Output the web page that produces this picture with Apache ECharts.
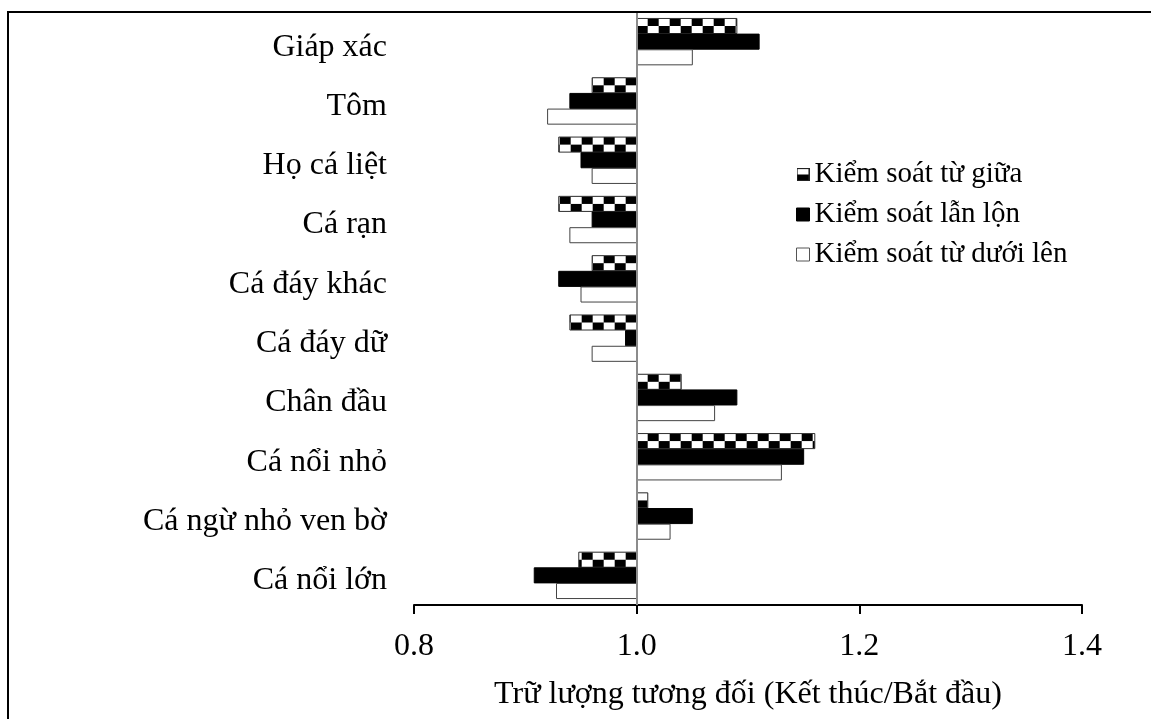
<!DOCTYPE html>
<html>
<head>
<meta charset="utf-8">
<script src="https://cdn.jsdelivr.net/npm/echarts@6/dist/echarts.min.js"></script>
<style>
html,body{margin:0;padding:0;background:#fff;}
#chart{width:1151px;height:719px;}
</style>
</head>
<body>
<div id="chart"></div>
<script>
// ---- data ----
const categories = ['Giáp xác','Tôm','Họ cá liệt','Cá rạn','Cá đáy khác','Cá đáy dữ','Chân đầu','Cá nổi nhỏ','Cá ngừ nhỏ ven bờ','Cá nổi lớn'];
const seriesNames = ['Kiểm soát từ giữa','Kiểm soát lẫn lộn','Kiểm soát từ dưới lên'];
const middleOut = [1.09, 0.96, 0.93, 0.93, 0.96, 0.94, 1.04, 1.16, 1.01, 0.948];
const mixedCtrl = [1.11, 0.94, 0.95, 0.96, 0.93, 0.99, 1.09, 1.15, 1.05, 0.908];
const bottomUp  = [1.05, 0.92, 0.96, 0.94, 0.95, 0.96, 1.07, 1.13, 1.03, 0.928];
const tickValues = [0.8, 1.0, 1.2, 1.4];
const baseValue = 1.0;
const xAxisName = 'Trữ lượng tương đối (Kết thúc/Bắt đầu)';

const FONT = '"Liberation Serif","Times New Roman",serif';

// checker pattern canvas
const pat = document.createElement('canvas');
pat.width = 22; pat.height = 16;
(function(){
  const c = pat.getContext('2d');
  c.fillStyle = '#fff'; c.fillRect(0,0,22,16);
  c.fillStyle = '#000';
  c.fillRect(11,0,11,8);
  c.fillRect(0,8,11,8);
})();

// legend icon for checkered series
const ic = document.createElement('canvas');
ic.width = 12; ic.height = 12;
(function(){
  const c = ic.getContext('2d');
  c.fillStyle = '#fff'; c.fillRect(0,0,12,12);
  c.fillStyle = '#000'; c.fillRect(0,6,12,6);
  c.strokeStyle = '#222'; c.lineWidth = 1; c.strokeRect(0.5,0.5,11,11);
})();
const checkerIcon = 'image://' + ic.toDataURL();

function toData(arr){ return arr.map((v,i)=>[v,i]); }

function makeRender(slot, kind){
  return function(params, api){
    const v = api.value(0);
    const cat = api.value(1);
    const p0 = api.coord([baseValue, cat]);
    const p1 = api.coord([v, cat]);
    const band = api.size([0,1])[1];
    const h = band * 0.254;
    const y = p0[1] + (slot - 1) * (h + 0.6) - h / 2;
    const x = Math.min(p0[0], p1[0]);
    const w = Math.abs(p1[0] - p0[0]);
    let style;
    if (kind === 'checker') {
      style = {
        fill: {image: pat, repeat: 'repeat', x: p0[0], y: y, scaleX: 1, scaleY: h / 16},
        stroke: '#333', lineWidth: 1
      };
    } else if (kind === 'black') {
      style = {fill: '#000', stroke: '#000', lineWidth: 1};
    } else {
      style = {fill: '#fff', stroke: '#444', lineWidth: 1};
    }
    return {type: 'rect', shape: {x: x, y: y, width: w, height: h}, style: style};
  };
}

const chart = echarts.init(document.getElementById('chart'), null, {renderer: 'canvas'});
chart.setOption({
  animation: false,
  backgroundColor: '#fff',
  textStyle: {fontFamily: FONT},
  graphic: [{
    type: 'rect', silent: true, z: 100,
    shape: {x: 8, y: 12, width: 1300, height: 900},
    style: {fill: 'none', stroke: '#000', lineWidth: 2}
  }],
  grid: {left: 414, right: 69, top: 12, bottom: 114, containLabel: false},
  legend: {
    left: 791, top: 155, orient: 'vertical',
    itemWidth: 13, itemHeight: 13, itemGap: 11,
    selectedMode: false,
    textStyle: {fontFamily: FONT, fontSize: 29, color: '#000'},
    data: [
      {name: seriesNames[0], icon: checkerIcon},
      {name: seriesNames[1], icon: 'rect', itemStyle: {color: '#000', borderColor: '#000', borderWidth: 1}},
      {name: seriesNames[2], icon: 'rect', itemStyle: {color: '#fff', borderColor: '#555', borderWidth: 1}}
    ]
  },
  xAxis: {
    type: 'value', min: tickValues[0], max: tickValues[tickValues.length-1], interval: 0.2,
    splitLine: {show: false},
    axisLine: {show: true, lineStyle: {color: '#000', width: 2}},
    axisTick: {show: true, inside: false, length: 9, lineStyle: {color: '#000', width: 2}},
    axisLabel: {fontFamily: FONT, fontSize: 32, color: '#000', margin: 26,
      formatter: v => v.toFixed(1)},
    name: xAxisName, nameLocation: 'middle', nameGap: 74,
    nameTextStyle: {fontFamily: FONT, fontSize: 32, color: '#000'}
  },
  yAxis: {
    type: 'category', data: categories, inverse: true,
    axisLine: {show: false}, axisTick: {show: false}, splitLine: {show: false},
    axisLabel: {
      margin: 27, color: '#000',
      formatter: v => '{a|' + v + '}',
      rich: {a: {fontFamily: FONT, fontSize: 32, color: '#000', padding: [11, 0, 0, 0]}}
    }
  },
  series: [
    {name: seriesNames[0], type: 'custom', renderItem: makeRender(0, 'checker'),
     encode: {x: 0, y: 1}, data: toData(middleOut), clip: true,
     itemStyle: {color: '#888'}},
    {name: seriesNames[1], type: 'custom', renderItem: makeRender(1, 'black'),
     encode: {x: 0, y: 1}, data: toData(mixedCtrl), clip: true,
     itemStyle: {color: '#000'}},
    {name: seriesNames[2], type: 'custom', renderItem: makeRender(2, 'white'),
     encode: {x: 0, y: 1}, data: toData(bottomUp), clip: true,
     itemStyle: {color: '#fff', borderColor: '#555', borderWidth: 1}},
    {name: 'baseline', type: 'line', data: [], silent: true,
     markLine: {silent: true, symbol: 'none', label: {show: false},
       lineStyle: {color: '#8c8c8c', width: 2, type: 'solid'},
       data: [{xAxis: baseValue}]}}
  ]
});
</script>
</body>
</html>
